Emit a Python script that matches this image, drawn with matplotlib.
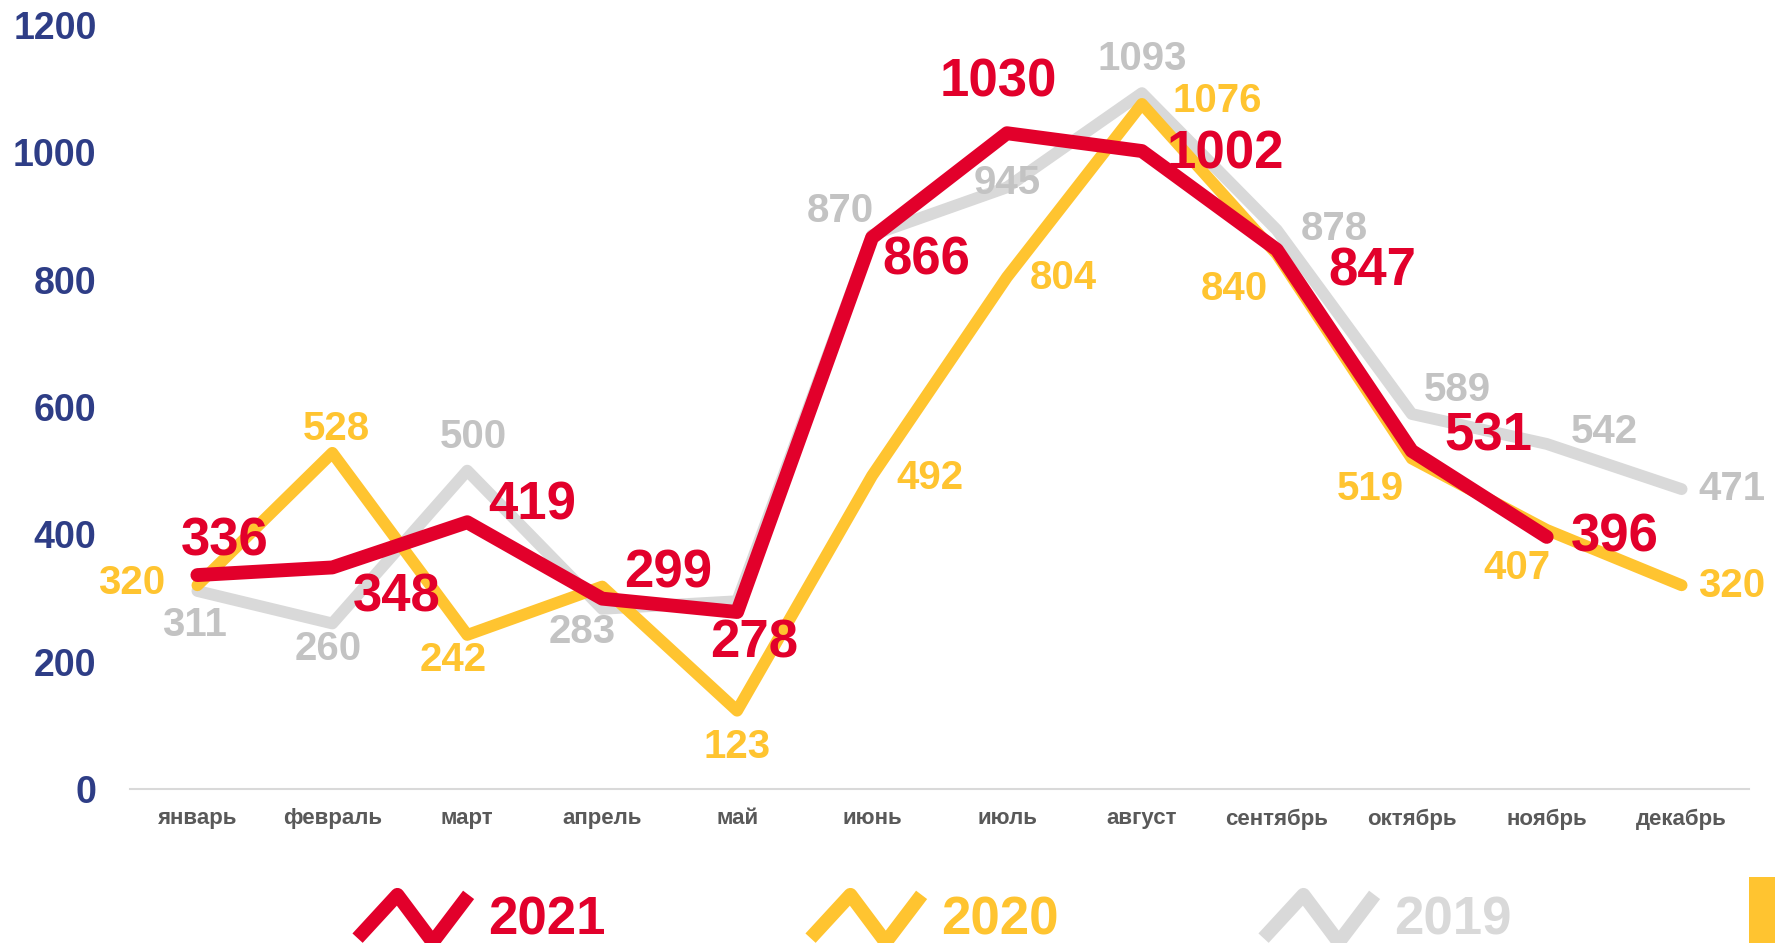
import numpy as np
import matplotlib
matplotlib.use("Agg")
import matplotlib.pyplot as plt
from matplotlib.path import Path
from matplotlib.markers import MarkerStyle
from matplotlib.lines import Line2D
from matplotlib.patches import Rectangle

plt.rcParams['font.family'] = ['Liberation Sans', 'DejaVu Sans']

# data
months = ['январь', 'февраль', 'март', 'апрель', 'май', 'июнь',
          'июль', 'август', 'сентябрь', 'октябрь', 'ноябрь', 'декабрь']
y2019 = [311, 260, 500, 283, 295, 870, 945, 1093, 878, 589, 542, 471]
y2020 = [320, 528, 242, 318, 123, 492, 804, 1076, 840, 519, 407, 320]
y2021 = [336, 348, 419, 299, 278, 866, 1030, 1002, 847, 531, 396]
yticks = [0, 200, 400, 600, 800, 1000, 1200]

# label offsets in pixels (None = no label)
off2019 = [(-3, -34), (-4, -26), (6, 34), (-20, -23), None, (-32, 24),
           (0, 4), (0, 34), (57, 1), (46, 24), (58, 12), (50, 0)]
off2020 = [(-66, 2), (4, 24), (-14, -25), None, (0, -36), (58, -2),
           (56, -1), (75, 3), (-43, -35), (-41, -30), (-30, -38), (50, -1)]
off2021 = [(27, 34), (64, -30), (65, 17), (66, 25), (17, -31), (54, -23),
           (-9, 51), (83, -3), (96, -22), (77, 14), (68, -1)]

RED = '#E2002B'
YELLOW = '#FFC430'
GRAY = '#D9D9D9'
GRAY_TXT = '#C3C3C3'
BLUE = '#2E3D86'

fig = plt.figure(figsize=(17.75, 9.43), dpi=100)
ax = fig.add_axes([0.0732, 0.1633, 0.9122, 0.8102])

x = np.arange(len(months))
series = [
    (y2019, off2019, GRAY, GRAY_TXT, 8.5, 29, 2),
    (y2020, off2020, YELLOW, YELLOW, 8.5, 29, 3),
    (y2021, off2021, RED, RED, 10, 38, 4),
]
for vals, offs, col, tcol, lw, fs, z in series:
    xs = x[:len(vals)]
    ax.plot(xs, vals, color=col, lw=lw, solid_joinstyle='round',
            solid_capstyle='round', zorder=z)
    for xi, v, o in zip(xs, vals, offs):
        if o is None:
            continue
        ax.annotate(str(v), (xi, v), xytext=o, textcoords='offset pixels',
                    ha='center', va='center', fontsize=fs, fontweight='bold',
                    color=tcol, zorder=10, annotation_clip=False)

ax.set_xlim(-0.5, 11.5)
ax.set_ylim(0, 1200)
ax.set_xticks(x)
ax.set_xticklabels(months, fontsize=16, fontweight='bold', color='#595959')
ax.set_yticks(yticks)
ax.set_yticklabels([str(t) for t in yticks], fontsize=27, fontweight='bold',
                   color=BLUE)
ax.tick_params(axis='both', length=0)
ax.tick_params(axis='x', pad=14)
ax.tick_params(axis='y', pad=24)
for s in ['top', 'right', 'left']:
    ax.spines[s].set_visible(False)
ax.spines['bottom'].set_color(GRAY)
ax.spines['bottom'].set_linewidth(1.5)

# legend with zigzag glyphs
zig = Path([(-1, -0.38), (-0.3, 0.38), (0.32, -0.45), (0.95, 0.38)],
           [Path.MOVETO, Path.LINETO, Path.LINETO, Path.LINETO])
handles = []
for col, lab in [(RED, '2021'), (YELLOW, '2020'), (GRAY, '2019')]:
    m = MarkerStyle(zig, joinstyle='miter', capstyle='butt')
    handles.append(Line2D([], [], linestyle='none', marker=m, markersize=82,
                          markeredgewidth=10, markeredgecolor=col,
                          markerfacecolor='none', label=lab))
leg = fig.legend(handles=handles, loc='center', bbox_to_anchor=(0.526, 0.024),
                 ncol=3, frameon=False, numpoints=1, handlelength=2.2,
                 handletextpad=0.3, columnspacing=3.86,
                 prop={'size': 38, 'weight': 'bold'})
for t, col in zip(leg.get_texts(), [RED, YELLOW, GRAY]):
    t.set_color(col)

fig.patches.append(Rectangle((0.9854, 0), 0.0146, 0.07, transform=fig.transFigure,
                             facecolor=YELLOW, edgecolor='none'))

fig.savefig('out.png', dpi=100)
